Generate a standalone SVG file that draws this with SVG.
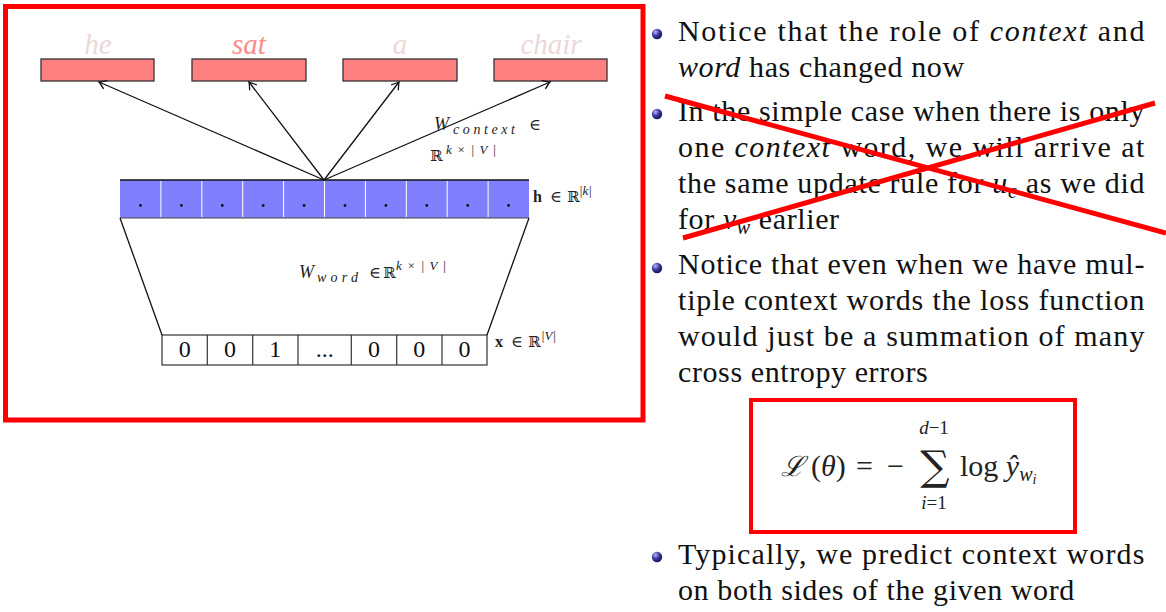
<svg xmlns="http://www.w3.org/2000/svg" width="1166" height="612" viewBox="0 0 1166 612">
<style>
.t{font-family:"Liberation Serif",serif;font-size:30px;letter-spacing:0.6px;fill:#111}
.i{font-style:italic}
.m{font-family:"Liberation Serif","DejaVu Serif",serif;fill:#222}
.dj{font-family:"DejaVu Serif",serif;fill:#222}
.lbl{font-family:"Liberation Serif",serif;font-style:italic;font-size:29px;text-anchor:middle}
.wbox{fill:#ff8080;stroke:#333;stroke-width:1.3}
.cell{fill:#fff;stroke:#333;stroke-width:1.2}
.num{font-family:"Liberation Serif",serif;font-size:24px;text-anchor:middle;fill:#111}
.red{fill:none;stroke:#ff0000}
.conn{stroke:#111;stroke-width:1.3;fill:none}
</style>
<defs>
<marker id="ah" markerUnits="userSpaceOnUse" markerWidth="14" markerHeight="14" refX="0" refY="0" viewBox="-10 -7 12 14" orient="auto">
<path d="M-7,-4.5 Q-2,-1 0,0 Q-2,1 -7,4.5" fill="none" stroke="#111" stroke-width="1.3"/>
</marker>
<radialGradient id="ball" cx="0.35" cy="0.3" r="0.75">
<stop offset="0" stop-color="#b8b8f0"/>
<stop offset="0.5" stop-color="#3a3aa0"/>
<stop offset="1" stop-color="#10105a"/>
</radialGradient>
</defs>
<rect width="1166" height="612" fill="#fff"/>

<!-- left panel frame -->
<rect class="red" x="5.5" y="6.5" width="637.5" height="413.5" stroke-width="5"/>

<!-- output word nodes -->
<g id="node-he"><rect class="wbox" x="41" y="59" width="113" height="22"/><text class="lbl" x="98" y="54" fill="#ead8d8">he</text></g>
<g id="node-sat"><rect class="wbox" x="192" y="59" width="114" height="22"/><text class="lbl" x="249" y="54" fill="#ff8a8a">sat</text></g>
<g id="node-a"><rect class="wbox" x="343" y="59" width="114" height="22"/><text class="lbl" x="400" y="54" fill="#ead8d8">a</text></g>
<g id="node-chair"><rect class="wbox" x="494" y="59" width="113" height="22"/><text class="lbl" x="551" y="54" fill="#ead8d8">chair</text></g>

<!-- hidden layer h -->
<g id="node-h">
<rect x="120" y="180" width="409" height="38" fill="#8080ff"/>
<g stroke="#fff" stroke-width="1">
<line x1="160.9" y1="181" x2="160.9" y2="217"/><line x1="201.8" y1="181" x2="201.8" y2="217"/><line x1="242.7" y1="181" x2="242.7" y2="217"/><line x1="283.6" y1="181" x2="283.6" y2="217"/><line x1="324.5" y1="181" x2="324.5" y2="217"/><line x1="365.4" y1="181" x2="365.4" y2="217"/><line x1="406.3" y1="181" x2="406.3" y2="217"/><line x1="447.2" y1="181" x2="447.2" y2="217"/><line x1="488.1" y1="181" x2="488.1" y2="217"/>
</g>
<line x1="120" y1="180" x2="529" y2="180" stroke="#111" stroke-width="1.3"/>
<line x1="120" y1="218" x2="529" y2="218" stroke="#444" stroke-width="1.2"/>
<g fill="#111">
<circle cx="140.5" cy="205.5" r="1.4"/><circle cx="181.4" cy="205.5" r="1.4"/><circle cx="222.3" cy="205.5" r="1.4"/><circle cx="263.2" cy="205.5" r="1.4"/><circle cx="304.1" cy="205.5" r="1.4"/><circle cx="345" cy="205.5" r="1.4"/><circle cx="385.9" cy="205.5" r="1.4"/><circle cx="426.8" cy="205.5" r="1.4"/><circle cx="467.7" cy="205.5" r="1.4"/><circle cx="508.6" cy="205.5" r="1.4"/>
</g>
<text class="m" x="533" y="202" font-size="16" font-weight="bold">h</text>
<text class="m" x="550" y="202" font-size="16">∈</text>
<text class="dj" x="567" y="202" font-size="15">ℝ</text>
<text class="m i" x="579" y="195" font-size="13">|k|</text>
</g>

<!-- input layer x -->
<g id="node-x">
<rect class="cell" x="162" y="335" width="325" height="30"/>
<g stroke="#333" stroke-width="1.2"><line x1="207.3" y1="335" x2="207.3" y2="365"/><line x1="252.7" y1="335" x2="252.7" y2="365"/><line x1="298" y1="335" x2="298" y2="365"/><line x1="351.3" y1="335" x2="351.3" y2="365"/><line x1="396.7" y1="335" x2="396.7" y2="365"/><line x1="442" y1="335" x2="442" y2="365"/></g>
<text class="num" x="184.7" y="357">0</text>
<text class="num" x="230" y="357">0</text>
<text class="num" x="275.3" y="357">1</text>
<text class="num" x="324.7" y="357">...</text>
<text class="num" x="374" y="357">0</text>
<text class="num" x="419.3" y="357">0</text>
<text class="num" x="464.5" y="357">0</text>
<text class="m" x="495" y="347" font-size="16" font-weight="bold">x</text>
<text class="m" x="511" y="347" font-size="16">∈</text>
<text class="dj" x="528" y="347" font-size="15">ℝ</text>
<text class="m i" x="541" y="340" font-size="13">|V|</text>
</g>

<!-- connectors -->
<g id="connectors">
<line class="conn" x1="324" y1="180" x2="99" y2="82" marker-end="url(#ah)"/>
<line class="conn" x1="324" y1="180" x2="249" y2="82" marker-end="url(#ah)"/>
<line class="conn" x1="324" y1="180" x2="399" y2="82" marker-end="url(#ah)"/>
<line class="conn" x1="324" y1="180" x2="550" y2="82" marker-end="url(#ah)"/>
<line class="conn" x1="120" y1="218" x2="162" y2="335"/>
<line class="conn" x1="529" y1="218" x2="487" y2="335"/>
</g>

<!-- weight labels -->
<g id="label-wcontext">
<text class="m i" x="434" y="130" font-size="18">W</text>
<text class="m i" x="453" y="134" font-size="14" textLength="62">context</text>
<text class="m" x="529" y="130" font-size="16">∈</text>
<text class="dj" x="430" y="161" font-size="15">ℝ</text>
<text class="m i" x="446" y="154" font-size="13" textLength="50">k×|V|</text>
</g>
<g id="label-wword">
<text class="m i" x="299" y="278" font-size="18">W</text>
<text class="m i" x="317" y="282" font-size="14" textLength="41">word</text>
<text class="m" x="369" y="278" font-size="16">∈</text>
<text class="dj" x="383" y="278" font-size="15">ℝ</text>
<text class="m i" x="396" y="270" font-size="13" textLength="50">k×|V|</text>
</g>

<!-- right side bullets -->
<g id="bullets">
<circle cx="657" cy="34" r="5.2" fill="url(#ball)"/>
<circle cx="657" cy="114" r="5.2" fill="url(#ball)"/>
<circle cx="657" cy="268" r="5.2" fill="url(#ball)"/>
<circle cx="657" cy="557" r="5.2" fill="url(#ball)"/>
<text class="t" x="678" y="41" textLength="467">Notice that the role of <tspan class="i">context</tspan> and</text>
<text class="t" x="678" y="77"><tspan class="i">word</tspan> has changed now</text>
<text class="t" x="678" y="121" textLength="467">In the simple case when there is only</text>
<text class="t" x="678" y="157" textLength="467">one <tspan class="i">context</tspan> word, we will arrive at</text>
<text class="t" x="678" y="193" textLength="467">the same update rule for <tspan class="i">u</tspan><tspan class="i" font-size="20" dy="5">c</tspan><tspan dy="-5"> as we did</tspan></text>
<text class="t" x="678" y="229">for <tspan class="i">v</tspan><tspan class="i" font-size="20" dy="5">w</tspan><tspan dy="-5"> earlier</tspan></text>
<text class="t" x="678" y="274" textLength="467">Notice that even when we have mul-</text>
<text class="t" x="678" y="310" textLength="467">tiple context words the loss function</text>
<text class="t" x="678" y="346" textLength="467">would just be a summation of many</text>
<text class="t" x="678" y="382">cross entropy errors</text>
<text class="t" x="678" y="564" textLength="467">Typically, we predict context words</text>
<text class="t" x="678" y="600">on both sides of the given word</text>
</g>

<!-- cross-out -->
<g id="crossout">
<line class="red" x1="665" y1="96" x2="1166" y2="233" stroke-width="5"/>
<line class="red" x1="683" y1="238" x2="1155" y2="103" stroke-width="5"/>
</g>

<!-- formula -->
<g id="formula">
<rect class="red" x="751" y="400" width="324" height="132" stroke-width="4"/>
<text class="dj i" x="781" y="476" font-size="28">ℒ</text>
<text class="m" x="811" y="476" font-size="30">(<tspan class="i">θ</tspan>)</text>
<text class="m" x="856" y="476" font-size="30">=</text>
<text class="m" x="887" y="476" font-size="30">−</text>
<text class="m" x="934" y="434" font-size="19" text-anchor="middle"><tspan class="i">d</tspan>−1</text>
<text class="dj" x="935" y="480" font-size="41" text-anchor="middle">∑</text>
<text class="m" x="934" y="509" font-size="19" text-anchor="middle"><tspan class="i">i</tspan>=1</text>
<text class="m" x="960" y="476" font-size="30">log <tspan class="i">ŷ</tspan><tspan class="i" font-size="20" dy="5">w</tspan><tspan class="i" font-size="14" dy="3">i</tspan></text>
</g>
</svg>
